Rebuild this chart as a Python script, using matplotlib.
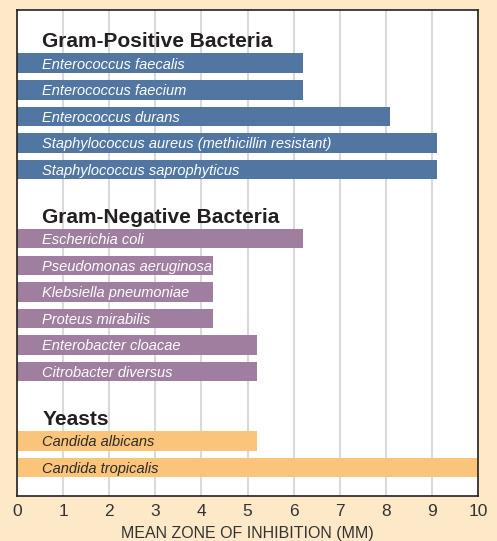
import matplotlib
matplotlib.use("Agg")
import matplotlib.pyplot as plt

# data
groups = ["Gram-Positive Bacteria", "Gram-Negative Bacteria", "Yeasts"]
gram_pos = ["Enterococcus faecalis", "Enterococcus faecium", "Enterococcus durans",
            "Staphylococcus aureus (methicillin resistant)",
            "Staphylococcus saprophyticus"]
gram_pos_vals = [6.2, 6.2, 8.1, 9.1, 9.1]
gram_neg = ["Escherichia coli", "Pseudomonas aeruginosa", "Klebsiella pneumoniae",
            "Proteus mirabilis", "Enterobacter cloacae", "Citrobacter diversus"]
gram_neg_vals = [6.2, 4.25, 4.25, 4.25, 5.2, 5.2]
yeasts = ["Candida albicans", "Candida tropicalis"]
yeast_vals = [5.2, 10.0]
xticks = list(range(0, 11))
xlabel = "MEAN ZONE OF INHIBITION (MM)"

BG = "#FDE8C8"
colors = ["#5276A2", "#9F7E9F", "#FAC47A"]
text_colors = ["white", "white", "#2b2b2b"]

plt.rcParams["font.family"] = ["Liberation Sans", "DejaVu Sans"]

fig = plt.figure(figsize=(4.97, 5.41), dpi=100, facecolor=BG)
ax = fig.add_axes([0.0342, 0.0832, 0.9276, 0.8983])
ax.set_facecolor("white")

# vertical layout in "row" units, y grows downward
y = 2.0
for gi, (names, vals) in enumerate(zip([gram_pos, gram_neg, yeasts],
                                       [gram_pos_vals, gram_neg_vals, yeast_vals])):
    # header baseline sits ~0.6 row above the first bar
    ax.text(0.55, y - 0.6, groups[gi], fontsize=15, fontweight="bold",
            color="#231F20", va="baseline", ha="left")
    for name, v in zip(names, vals):
        ax.barh(y, v, height=0.73, color=colors[gi], zorder=2)
        ax.text(0.55, y + 0.2, name, fontsize=10.5, style="italic",
                color=text_colors[gi], va="baseline", ha="left", zorder=3)
        y += 1
    y += 1.6

ax.set_xlim(0, 10)
ax.set_ylim(18.27, 0)
ax.set_yticks([])
ax.set_xticks(xticks)
ax.set_xticklabels([str(t) for t in xticks], fontsize=12.5, color="#333333")
ax.tick_params(axis="x", length=0, pad=6)
ax.grid(axis="x", color="#DADADA", linewidth=1.5, zorder=0)
ax.set_axisbelow(True)
for s in ax.spines.values():
    s.set_color("#222222")
    s.set_linewidth(1.2)

ax.set_xlabel(xlabel, fontsize=11.5, color="#333333", labelpad=5)

fig.savefig("out.png", dpi=100, facecolor=BG)
